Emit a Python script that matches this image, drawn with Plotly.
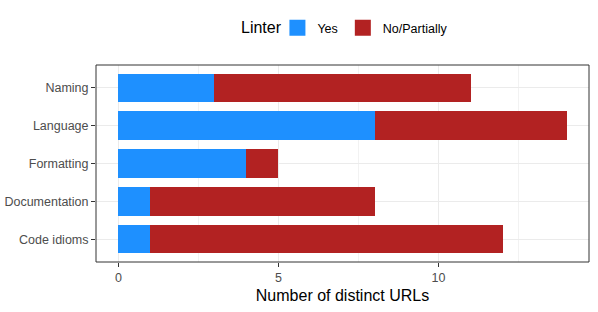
import plotly.graph_objects as go

categories = ["Code idioms", "Documentation", "Formatting", "Language", "Naming"]
yes_values = [1, 1, 4, 8, 3]
no_values = [11, 7, 1, 6, 8]
x_ticks = [0, 5, 10]
series_names = ["Yes", "No/Partially"]
series_colors = ["#1E90FF", "#B22222"]

fig = go.Figure()
for vals, name, col in zip([yes_values, no_values], series_names, series_colors):
    fig.add_trace(go.Bar(y=categories, x=vals, name=name, orientation="h",
                         marker=dict(color=col, line=dict(width=0)), width=0.75,
                         showlegend=False))
for name, col in zip(series_names, series_colors):
    fig.add_trace(go.Scatter(x=[None], y=[None], mode="markers", name=name,
                             marker=dict(symbol="square", size=16, color=col)))

fig.add_shape(type="rect", xref="paper", yref="paper", x0=0, x1=1, y0=0, y1=1,
              line=dict(color="#333333", width=1), fillcolor="rgba(0,0,0,0)", layer="above")
fig.add_annotation(text="Linter", xref="paper", yref="paper", x=0.29, y=1.188,
                   xanchor="left", yanchor="middle", showarrow=False,
                   font=dict(size=16, color="black"))

fig.update_layout(
    barmode="stack",
    width=598, height=312,
    margin=dict(l=96, r=9, t=65, b=50, autoexpand=False),
    plot_bgcolor="white", paper_bgcolor="white",
    font=dict(family="Liberation Sans, Arial, sans-serif", color="#4d4d4d"),
    legend=dict(orientation="h", x=0.368, xanchor="left", yref="container", y=0.91, yanchor="middle",
                font=dict(size=12.5, color="black"), traceorder="normal",
                itemsizing="trace", itemwidth=30),
    xaxis=dict(range=[-0.7, 14.7], tickvals=x_ticks, ticks="outside", ticklen=4,
               tickcolor="#333333", tickfont=dict(size=12.5, color="#4d4d4d"),
               showgrid=True, gridcolor="#ebebeb", gridwidth=1, automargin=False,
               minor=dict(dtick=2.5, tick0=2.5, showgrid=True, gridcolor="#f2f2f2", gridwidth=0.6),
               zeroline=False, showline=False,
               title=dict(text="Number of distinct URLs", font=dict(size=16, color="black"), standoff=5)),
    yaxis=dict(range=[-0.6, 4.6], ticks="outside", ticklen=4, tickcolor="#333333",
               tickfont=dict(size=12.5, color="#4d4d4d"), automargin=False,
               showgrid=True, gridcolor="#ebebeb", gridwidth=1,
               zeroline=False, showline=False),
)

fig.write_html("out.html", config={"displayModeBar": False},
               post_script="document.body.style.margin='0';")
